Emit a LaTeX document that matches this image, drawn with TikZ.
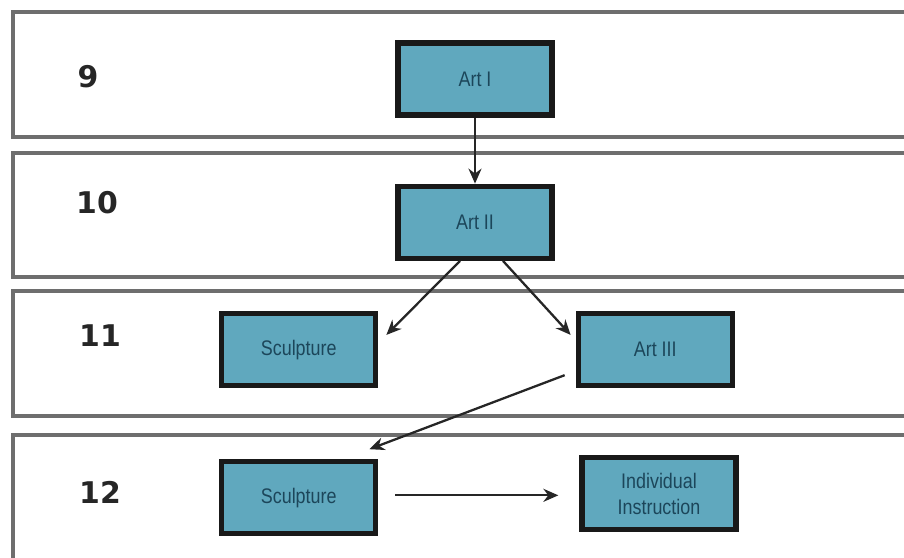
\documentclass[tikz,border=0pt]{standalone}
\usepackage{fontspec}
\setmainfont{Liberation Sans}
\newfontfamily\boxfont[FakeStretch=0.85]{Liberation Sans}
\newfontfamily\gradefont{DejaVu Sans}
\usetikzlibrary{positioning,arrows.meta}
\definecolor{boxfill}{RGB}{96,168,190}
\definecolor{boxtext}{RGB}{28,70,90}
\definecolor{bandline}{RGB}{110,110,110}
\tikzset{every picture/.style={line width=1.1pt}}

\begin{document}
\begin{tikzpicture}[
    course/.style={draw=black!90, line width=3pt, fill=boxfill, rectangle, minimum width=3.08cm, minimum height=1.44cm, align=center, text=boxtext, font=\boxfont\fontsize{12}{15}\selectfont},
    grade/.style={font=\gradefont\bfseries\fontsize{17}{19}\selectfont, text=black!85},
    band/.style={draw=bandline, line width=2.8pt},
    link/.style={-{Stealth[length=3mm,width=2.6mm]}, draw=black!85, line width=1.3pt}
]
\useasboundingbox (0,0) rectangle (18.08,-11.14);

    % Grade bands
    \draw[band] (0.26,-0.24) rectangle (18.6,-2.74);
    \draw[band] (0.26,-3.06) rectangle (18.6,-5.54);
    \draw[band] (0.26,-5.82) rectangle (18.6,-8.32);
    \draw[band] (0.26,-8.70) rectangle (18.6,-11.5);

    % Grade numbers
    \node[grade] (g9) at (1.76,-1.54) {9};
    \node[grade] (g10) at (1.94,-4.06) {10};
    \node[grade] (g11) at (2.0,-6.72) {11};
    \node[grade] (g12) at (2.0,-9.84) {12};

    % Courses
    \node[course] (A1) at (9.5,-1.58) {Art I};
    \node[course, below=1.32cm of A1] (A2) {Art II};
    \node[course, below left=1cm and 0.34cm of A2] (S11) {Sculpture};
    \node[course, below right=1cm and 0.42cm of A2] (A3) {Art III};
    \node[course, below=1.42cm of S11] (S12) {Sculpture};
    \node[course, right=4.02cm of S12, yshift=0.08cm] (II) {Individual\\Instruction};

    % Connections
    \draw[link] (A1) -- (A2);
    \draw[link] ([xshift=-0.3cm]A2.south) -- ([xshift=0.16cm,yshift=-0.48cm]S11.north east);
    \draw[link] ([xshift=0.56cm]A2.south) -- ([xshift=-0.1cm,yshift=-0.48cm]A3.north west);
    \draw[link] ([xshift=-0.22cm,yshift=0.26cm]A3.south west) -- ([xshift=-0.18cm,yshift=0.2cm]S12.north east);
    \draw[link, shorten <=0.34cm, shorten >=0.42cm] ([yshift=0.05cm]S12.east) -- ([yshift=0.05cm]S12.east -| II.west);
\end{tikzpicture}
\end{document}
